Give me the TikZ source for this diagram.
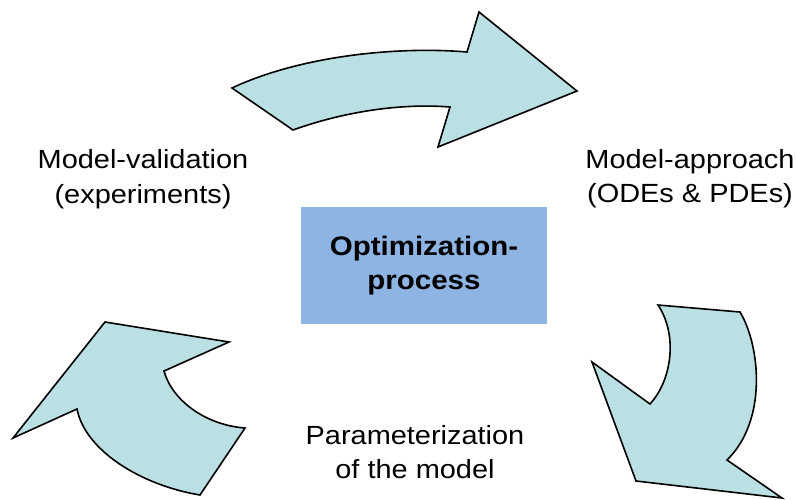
\documentclass[tikz,border=0pt]{standalone}
\usepackage{fontspec}
\setmainfont[FakeStretch=1.1]{Liberation Sans}
\definecolor{arrowfill}{RGB}{186,224,227}
\definecolor{boxfill}{RGB}{141,180,226}
\tikzset{
  bigarrow/.style={draw=black, fill=arrowfill, line width=1.6pt, line join=miter},
  label/.style={align=center, inner sep=0pt, font=\fontsize{26.3}{34.5}\selectfont},
  centerbox/.style={fill=boxfill, minimum width=246pt, minimum height=117pt, inner sep=0pt,
    align=center, font=\fontsize{26.8}{33.5}\selectfont\bfseries}
}
\begin{document}
\begin{tikzpicture}[x=1pt, y=-1pt]
  \useasboundingbox (0,0) rectangle (796,499);

  % centre box
  \node[centerbox] (opt) at (424,265.5) {Optimization-\\process};

  % text labels of the three stages
  \node[label] (validation) at (143,179) {Model-validation\\(experiments)};
  \node[label] (approach) at (690,178.5) {Model-approach\\(ODEs \& PDEs)};
  \node[label] (param) at (415,452) {Parameterization\\of the model};

  % curved arrow at the top
  \draw[bigarrow] (232,88) .. controls (300,56) and (397,46) .. (467,52)
    -- (479,12) -- (577,91) -- (438,147) -- (450,107)
    .. controls (400,103) and (343,112) .. (293,130) -- cycle;

  % curved arrow on the right
  \draw[bigarrow] (658,305) -- (740,312)
    .. controls (760,345) and (768,420) .. (727,460)
    -- (782,498) -- (636,481) -- (592,362) -- (650,404)
    .. controls (672,380) and (678,335) .. (658,305) -- cycle;

  % curved arrow on the left
  \draw[bigarrow] (105,322) -- (229,342) -- (164,371)
    .. controls (172,400) and (205,425) .. (245,428)
    -- (200,495)
    .. controls (140,485) and (85,450) .. (77,409)
    -- (13,438) -- cycle;
\end{tikzpicture}
\end{document}
